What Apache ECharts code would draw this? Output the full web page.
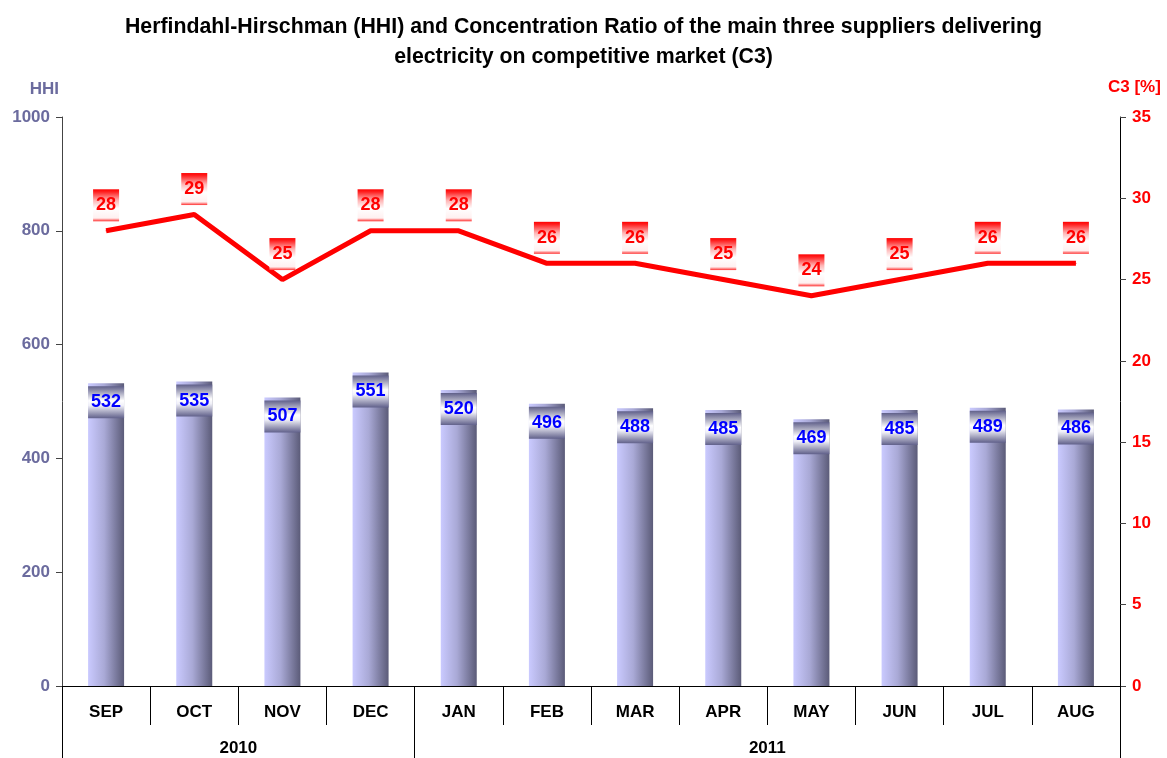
<!DOCTYPE html>
<html lang="en">
<head>
    <meta charset="UTF-8">
    <title>HHI and C3</title>
    <script src="https://cdn.jsdelivr.net/npm/echarts@6.0.0/dist/echarts.min.js"></script>
    <style>
        *{
            padding:0;
            margin:0;
        }
        html,body{
            height:100%;
            background:#fff;
        }
        #main{
            width:1167px;
            height:758px;
        }
    </style>
</head>
<body>
<div id="main"></div>
<script>
    var months = ['SEP','OCT','NOV','DEC','JAN','FEB','MAR','APR','MAY','JUN','JUL','AUG'];
    var hhi = [532, 535, 507, 551, 520, 496, 488, 485, 469, 485, 489, 486];
    var c3 = [28, 29, 25, 28, 28, 26, 26, 25, 24, 25, 26, 26];
    // year groups: label sits in the middle of its months, borders at group edges
    var years = ['2010', '2011'];
    var yearMid = [2, 8];
    var yearEdges = [0, 4, 12];

    var font = 'Liberation Sans, Arial, sans-serif';
    var hhiColor = '#6b6b9e';

    var myChart = echarts.init(document.getElementById('main'));

    function vGrad(stops){
        return new echarts.graphic.LinearGradient(0, 0, 0, 1, stops);
    }

    var option = {
        backgroundColor: '#fff',
        animation: false,
        textStyle: { fontFamily: font },
        title: {
            text: 'Herfindahl-Hirschman (HHI) and Concentration Ratio of the main three suppliers delivering\nelectricity on competitive market (C3)',
            left: 'center',
            top: 7,
            textStyle: {
                fontFamily: font,
                fontSize: 21.3,
                fontWeight: 'bold',
                color: '#000',
                lineHeight: 30
            }
        },
        grid: {
            left: 62,
            right: 47,
            top: 117,
            bottom: 72
        },
        xAxis: [
            {
                type: 'category',
                data: months,
                axisLine: { lineStyle: { color: '#000', width: 1 } },
                axisTick: {
                    show: true,
                    interval: 0,
                    alignWithLabel: false,
                    length: 39,
                    lineStyle: { color: '#000' }
                },
                axisLabel: {
                    interval: 0,
                    margin: 18,
                    color: '#000',
                    fontFamily: font,
                    fontSize: 17,
                    fontWeight: 'bold'
                },
                splitLine: { show: false }
            },
            {
                type: 'value',
                position: 'bottom',
                min: 0,
                max: 12,
                axisLine: { show: false },
                axisTick: {
                    show: true,
                    customValues: yearEdges,
                    length: 72,
                    lineStyle: { color: '#000' }
                },
                axisLabel: {
                    customValues: yearMid,
                    margin: 54,
                    color: '#000',
                    fontFamily: font,
                    fontSize: 17,
                    fontWeight: 'bold',
                    formatter: function (v) {
                        return years[yearMid.indexOf(v)];
                    }
                },
                splitLine: { show: false }
            }
        ],
        yAxis: [
            {
                type: 'value',
                min: 0,
                max: 1000,
                interval: 200,
                name: 'HHI',
                nameGap: 19,
                nameTextStyle: {
                    color: hhiColor,
                    fontFamily: font,
                    fontSize: 17,
                    fontWeight: 'bold',
                    align: 'right',
                    padding: [0, 3, 0, 0]
                },
                axisLine: { show: true, lineStyle: { color: '#444' } },
                axisTick: { show: true, length: 6, lineStyle: { color: '#444' } },
                axisLabel: {
                    margin: 12,
                    color: hhiColor,
                    fontFamily: font,
                    fontSize: 17,
                    fontWeight: 'bold',
                    formatter: function (v) {
                        return String(v);
                    }
                },
                splitLine: { show: false }
            },
            {
                type: 'value',
                min: 0,
                max: 35,
                interval: 5,
                name: 'C3 [%]',
                nameGap: 21,
                nameTextStyle: {
                    color: '#ff0000',
                    fontFamily: font,
                    fontSize: 17,
                    fontWeight: 'bold',
                    align: 'left',
                    padding: [0, 0, 0, -12]
                },
                axisLine: { show: true, lineStyle: { color: '#000' } },
                axisTick: { show: true, length: 6, lineStyle: { color: '#444' } },
                axisLabel: {
                    margin: 12,
                    color: '#ff0000',
                    fontFamily: font,
                    fontSize: 17,
                    fontWeight: 'bold'
                },
                splitLine: { show: false }
            }
        ],
        series: [
            {
                name: 'HHI',
                type: 'bar',
                data: hhi,
                barWidth: 36,
                itemStyle: {
                    color: new echarts.graphic.LinearGradient(0, 0, 1, 0, [
                        { offset: 0, color: '#cacaff' },
                        { offset: 0.45, color: '#a9a9d6' },
                        { offset: 1, color: '#5b5b78' }
                    ])
                },
                label: {
                    show: true,
                    position: 'insideTop',
                    distance: 3,
                    color: '#0000ff',
                    fontFamily: font,
                    fontSize: 18,
                    fontWeight: 'bold',
                    width: 36,
                    height: 32,
                    lineHeight: 32,
                    align: 'center',
                    backgroundColor: vGrad([
                        { offset: 0, color: '#60608a' },
                        { offset: 0.45, color: '#ffffff' },
                        { offset: 0.6, color: '#f0f0f8' },
                        { offset: 1, color: '#60608a' }
                    ])
                }
            },
            {
                name: 'C3',
                type: 'line',
                yAxisIndex: 1,
                data: c3,
                symbol: 'circle',
                symbolSize: 1,
                showSymbol: true,
                z: 5,
                itemStyle: { color: '#ff0000' },
                lineStyle: { color: '#ff0000', width: 5 },
                label: {
                    show: true,
                    position: 'top',
                    distance: 9,
                    color: '#ff0000',
                    fontFamily: font,
                    fontSize: 18,
                    fontWeight: 'bold',
                    width: 26,
                    height: 32,
                    lineHeight: 32,
                    align: 'center',
                    backgroundColor: vGrad([
                        { offset: 0, color: '#ff0000' },
                        { offset: 0.08, color: '#ff2020' },
                        { offset: 0.35, color: '#ffb4b4' },
                        { offset: 0.6, color: '#ffffff' },
                        { offset: 0.9, color: '#fff0f0' },
                        { offset: 1, color: '#ff3030' }
                    ])
                }
            }
        ]
    };
    myChart.setOption(option);
</script>
</body>
</html>
